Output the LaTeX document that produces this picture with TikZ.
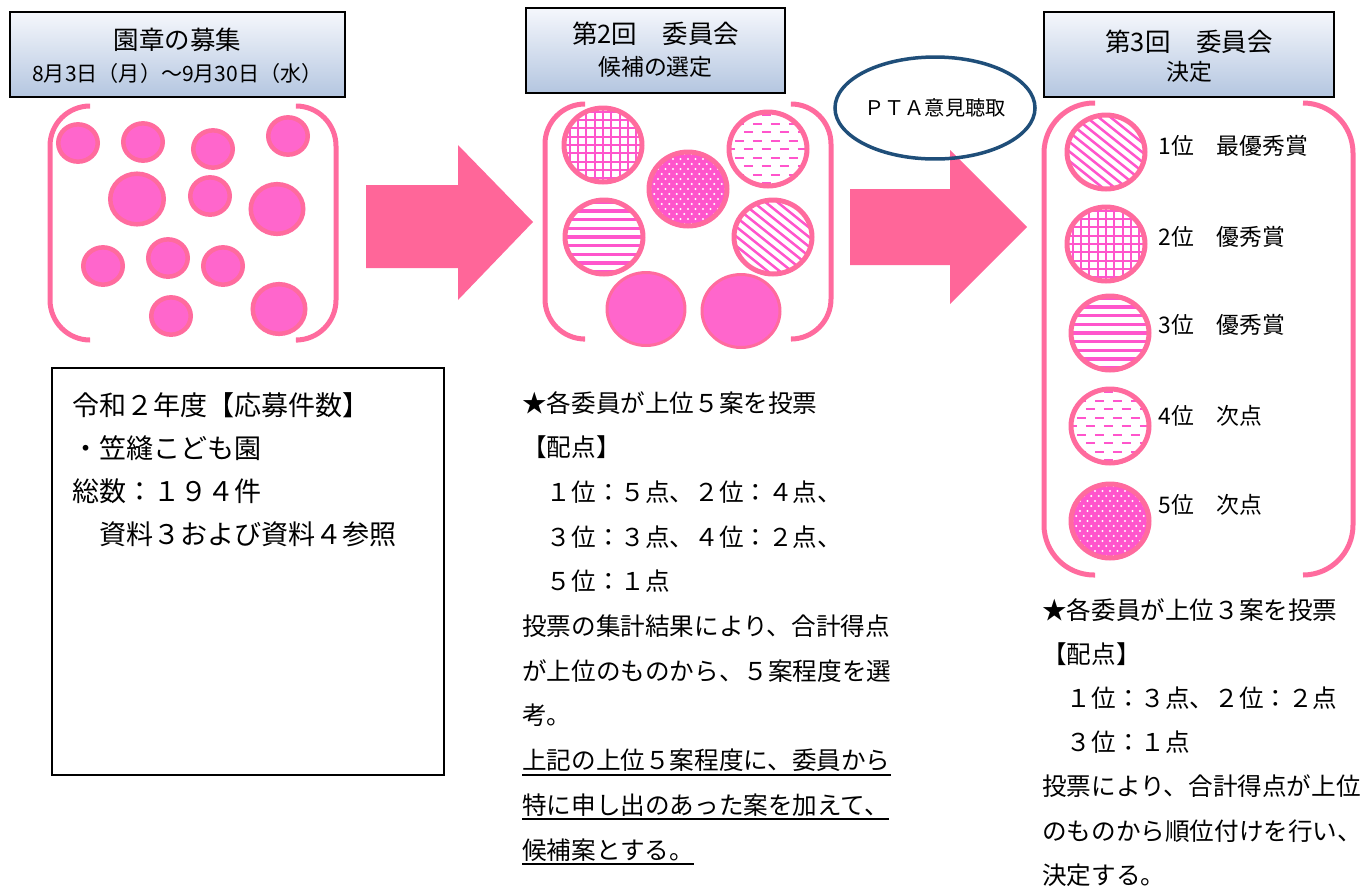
\documentclass[tikz,border=0pt]{standalone}
\usepackage{fontspec}
\setmainfont{Noto Sans CJK JP}
\usetikzlibrary{positioning,calc,shapes.geometric}

\definecolor{bracketpink}{HTML}{FF6B9E}
\definecolor{ballpink}{HTML}{FF66CC}
\definecolor{patpink}{HTML}{FF55CC}
\definecolor{arrowpink}{HTML}{FF6699}
\definecolor{ptablue}{HTML}{1F4E79}
\definecolor{headtop}{HTML}{F5F7FC}
\definecolor{headbot}{HTML}{B4C6E0}

\newcommand{\ulinetext}[1]{\leavevmode\vtop{\hbox{#1}\kern1.2pt\hrule height 1.1pt}}

\tikzset{
  headbox/.style={draw=black, line width=0.8pt, top color=headtop, bottom color=headbot, inner sep=0pt},
  headmain/.style={font=\fontsize{14.5pt}{16pt}\selectfont, inner sep=0pt},
  headsub/.style={font=\fontsize{13pt}{15pt}\selectfont, inner sep=0pt},
  bracket/.style={draw=bracketpink, line width=0.1cm, rounded corners=0.8cm},
  bigarrow/.style={fill=arrowpink},
  ball/.style={ellipse, inner sep=0pt, draw=bracketpink, line width=0.09cm},
  solidball/.style={ball, fill=ballpink},
  flatball/.style={ball, fill=ballpink, line width=0.06cm, minimum width=1.56cm, minimum height=1.46cm},
  patball/.style={ball, fill=white, line width=0.1cm, minimum width=1.56cm, minimum height=1.48cm},
  gridball/.style={patball, path picture={
    \begin{scope}[shift={(path picture bounding box.center)}, patpink, line width=0.04cm]
    \foreach \k in {-6,...,6} {
      \draw (\k*8.3,-50) -- (\k*8.3,50);
      \draw (-50,\k*8.3) -- (50,\k*8.3);
    }
    \end{scope}}},
  stripeball/.style={patball, path picture={
    \begin{scope}[shift={(path picture bounding box.center)}, patpink, line width=0.065cm]
    \foreach \k in {-6,...,6}
      \draw (-50,\k*8.7) -- (50,\k*8.7);
    \end{scope}}},
  slashball/.style={patball, path picture={
    \begin{scope}[shift={(path picture bounding box.center)}, patpink, line width=0.05cm]
    \foreach \k in {-10,...,10}
      \draw (\k*12-60,-48) -- (\k*12+60,48);
    \end{scope}}},
  dashball/.style={patball, path picture={
    \begin{scope}[shift={(path picture bounding box.center)}, patpink, line width=0.04cm, dash pattern=on 0.18cm off 0.18cm]
    \foreach \j in {0,...,12} {
      \pgfmathsetmacro\dashoff{9*mod(\j,2)}
      \draw (-60-\dashoff,{(\j-6)*8.5}) -- (60,{(\j-6)*8.5});
    }
    \end{scope}}},
  dotball/.style={patball, fill=patpink, path picture={
    \begin{scope}[shift={(path picture bounding box.center)}]
    \foreach \j in {0,...,16}
      \foreach \k in {0,...,12}
        \fill[white] ({(\k-6)*7.5+3.75*mod(\j,2)},{(\j-8)*5}) circle (0.024cm);
    \end{scope}}},
  ptaoval/.style={ellipse, draw=ptablue, line width=0.07cm, inner sep=0pt, font=\fontsize{11.5pt}{13pt}\selectfont},
  rankfont/.style={font=\fontsize{13pt}{15pt}\selectfont, inner sep=0pt, anchor=base west},
  countfont/.style={font=\fontsize{15.4pt}{18pt}\selectfont, inner sep=0pt, anchor=base west},
  bodyfont/.style={font=\fontsize{14pt}{17pt}\selectfont, inner sep=0pt, anchor=base west}
}

\begin{document}
\begin{tikzpicture}[x=0.02cm, y=-0.02cm]
  \useasboundingbox (0,0) rectangle (1367,890);

  % headers
  \node[headbox, minimum width=6.7cm, minimum height=1.7cm] (head1) at (177.5,54.5) {};
  \node[headmain] (head1a) at (177.5,40) {園章の募集};
  \node[headsub, font=\fontsize{12pt}{14pt}\selectfont] (head1b) at (177.5,73) {8月3日（月）～9月30日（水）};

  \node[headbox, minimum width=5.18cm, minimum height=1.7cm] (head2) at (655.5,50.5) {};
  \node[headmain] (head2a) at (655.5,34) {第2回　委員会};
  \node[headsub] (head2b) at (655.5,67) {候補の選定};

  \node[headbox, minimum width=5.8cm, minimum height=1.7cm] (head3) at (1189,54.5) {};
  \node[headmain] (head3a) at (1189,42) {第3回　委員会};
  \node[headsub] (head3b) at (1189,72) {決定};

  % brackets
  \draw[bracket] (90,106) -- (50,106) -- (50,340) -- (90,340);
  \draw[bracket] (298,106) -- (336,106) -- (336,340) -- (298,340);
  \draw[bracket] (583,104) -- (545,104) -- (545,339) -- (583,339);
  \draw[bracket] (792,104) -- (831,104) -- (831,339) -- (792,339);
  \draw[bracket, rounded corners=1cm] (1095,103) -- (1044,103) -- (1044,575) -- (1095,575);
  \draw[bracket, rounded corners=1cm] (1303,103) -- (1353,103) -- (1353,575) -- (1303,575);

  % entries
  \foreach \cx/\cy/\r [count=\i] in {78/143/22, 143/142/22, 213/149/22, 288/136/22,
      137/199/29, 210/196/22, 277/209/28.5, 103/266/22, 168/258/22, 223/266/22,
      171/316/22, 279/309/28.5}
    \node[solidball, minimum width={(2*\r-4.5)*0.02cm}, minimum height={(1.9*\r-4.5)*0.02cm}] (entry\i) at (\cx,\cy) {};

  % candidates
  \node[gridball] (cand1) at (603,145) {};
  \node[dashball] (cand2) at (768,149) {};
  \node[dotball] (cand3) at (688,189) {};
  \node[stripeball] (cand4) at (604,237) {};
  \node[slashball] (cand5) at (773,237) {};
  \node[flatball] (cand6) at (646,309) {};
  \node[flatball] (cand7) at (741,311) {};

  % ranking
  \node[slashball] (win1) at (1106,152) {};
  \node[gridball] (win2) at (1106,244) {};
  \node[stripeball] (win3) at (1110,333) {};
  \node[dashball] (win4) at (1110,426) {};
  \node[dotball] (win5) at (1110,521) {};
  \node[rankfont] (rank1) at (1158,154) {1位　最優秀賞};
  \node[rankfont] (rank2) at (1158,245) {2位　優秀賞};
  \node[rankfont] (rank3) at (1158,333) {3位　優秀賞};
  \node[rankfont] (rank4) at (1158,424) {4位　次点};
  \node[rankfont] (rank5) at (1158,513) {5位　次点};

  % arrows
  \fill[bigarrow] (366,185) -- (458,185) -- (458,145) -- (533,222) -- (458,300) -- (458,268) -- (366,268) -- cycle;
  \fill[bigarrow] (850,189) -- (950,189) -- (950,150) -- (1027,227) -- (950,304) -- (950,265) -- (850,265) -- cycle;
  \node[ptaoval, minimum width=4.0cm, minimum height=2.04cm] (pta) at (935,108) {ＰＴＡ意見聴取};

  % texts
  \draw[line width=0.6pt] (52,368) rectangle (444,775);
  \foreach \t [count=\i from 0] in {令和２年度【応募件数】, ・笠縫こども園, 総数：１９４件, 　資料３および資料４参照}
    \node[countfont] (count\i) at (72,{415+43.3*\i}) {\t};

  \foreach \t [count=\i from 0] in {★各委員が上位５案を投票, 【配点】, 　１位：５点、２位：４点、,
      　３位：３点、４位：２点、, 　５位：１点, 投票の集計結果により、合計得点,
      が上位のものから、５案程度を選, 考。, \ulinetext{上記の上位５案程度に、委員から},
      \ulinetext{特に申し出のあった案を加えて、}, \ulinetext{候補案とする。}}
    \node[bodyfont] (vote\i) at (522,{412+44.7*\i}) {\t};

  \foreach \t [count=\i from 0] in {★各委員が上位３案を投票, 【配点】, 　１位：３点、２位：２点,
      　３位：１点, 投票により、合計得点が上位, のものから順位付けを行い、, 決定する。}
    \node[bodyfont] (final\i) at (1042,{619+44.2*\i}) {\t};
\end{tikzpicture}
\end{document}
